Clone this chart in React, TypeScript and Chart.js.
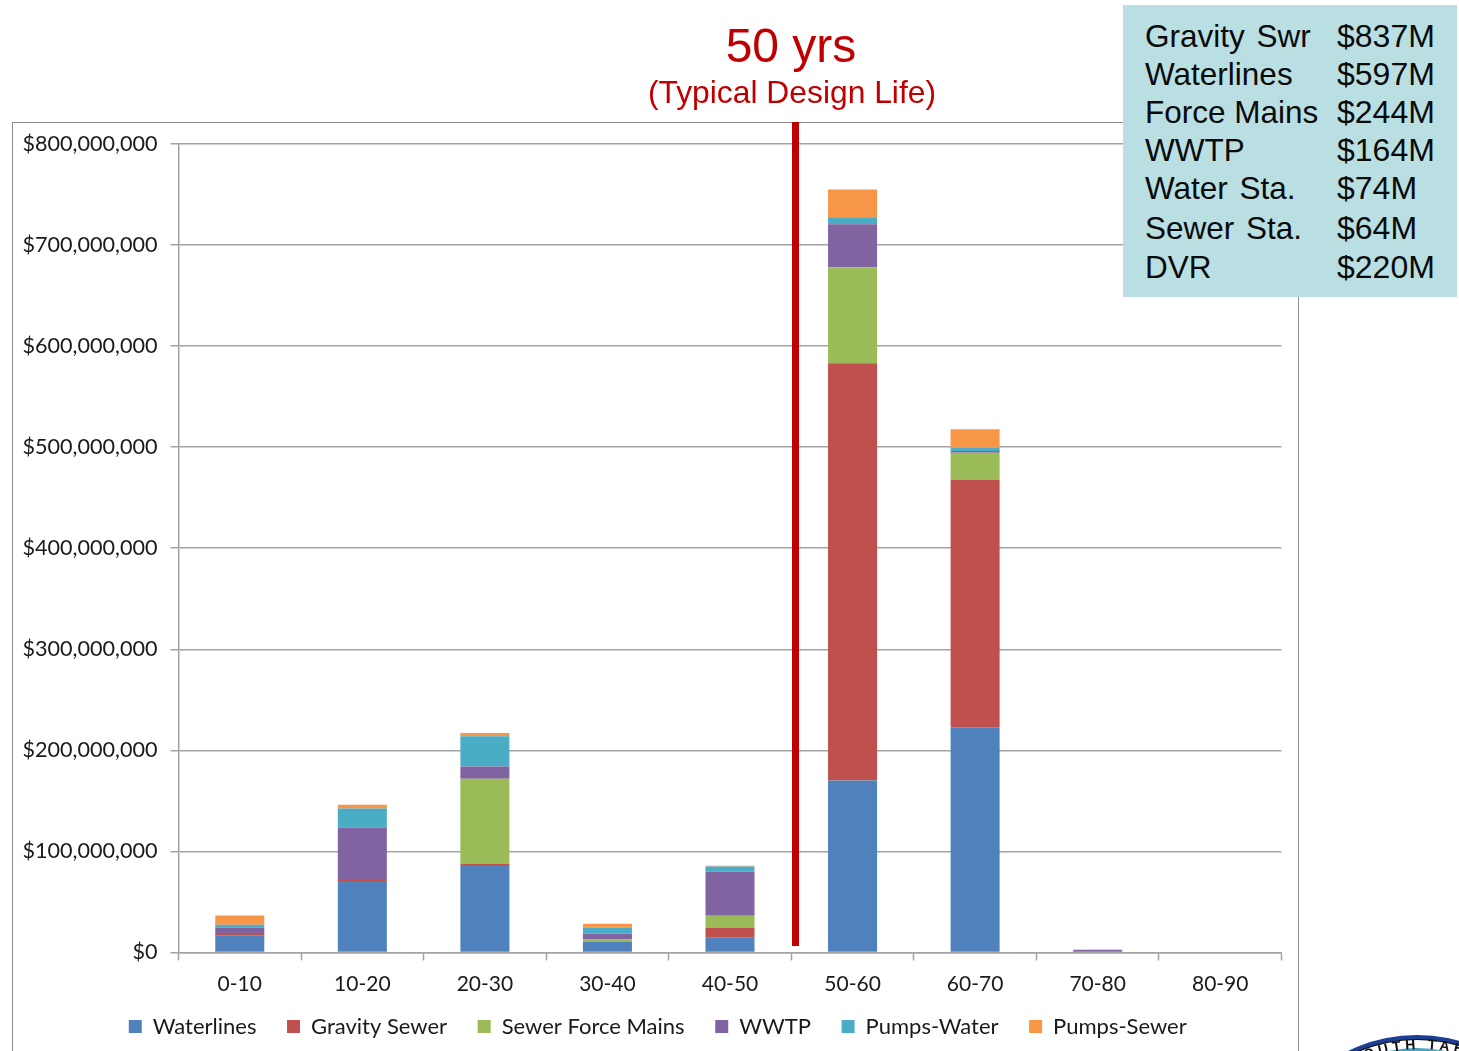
import React, { useEffect, useRef } from "react";
import { Chart, registerables } from "chart.js";

Chart.register(...registerables);

const categories = ["0-10", "10-20", "20-30", "30-40", "40-50", "50-60", "60-70", "70-80", "80-90"];
const waterlines = [16.5, 70.6, 86.5, 10.2, 14.5, 170, 222.7, 0, 0];
const gravitySewer = [2.6, 1, 1.3, 0.5, 9.6, 413, 245, 0, 0];
const sewerForceMains = [0, 0, 84, 2, 12.2, 95, 26.7, 0, 0];
const wwtp = [5.3, 52, 12.2, 6, 43.5, 42.6, 1.7, 2.5, 0];
const pumpsWater = [3, 18.8, 30, 6, 5.3, 6.9, 3.3, 0, 0];
const pumpsSewer = [9, 3.7, 3, 3.7, 0.6, 27.4, 18.3, 0, 0];
const summaryNames = ["Gravity Swr", "Waterlines", "Force Mains", "WWTP", "Water Sta.", "Sewer Sta.", "DVR"];
const summaryCosts = ["$837M", "$597M", "$244M", "$164M", "$74M", "$64M", "$220M"];
const summaryCentres = [36, 74, 112, 150, 188, 228, 267];

const MILLION = 1000000;
const inDollars = (values: number[]) => values.map((v) => v * MILLION);
const CANVAS_HEIGHT = 1075;
const GRID = "#a3a3a3";

const place = {
  id: "place",
  afterLayout(chart: any) {
    chart.legend.left = 34;
    chart.legend.top = 985;
  },
};

export default function App() {
  const ref = useRef<HTMLCanvasElement>(null);

  useEffect(() => {
    const series: [string, number[], string][] = [
      ["Waterlines", waterlines, "#4f81bd"],
      ["Gravity Sewer", gravitySewer, "#c0504d"],
      ["Sewer Force Mains", sewerForceMains, "#9bbb59"],
      ["WWTP", wwtp, "#8064a2"],
      ["Pumps-Water", pumpsWater, "#4bacc6"],
      ["Pumps-Sewer", pumpsSewer, "#f79646"],
    ];
    const chart = new Chart(ref.current as HTMLCanvasElement, {
      type: "bar",
      data: {
        labels: categories,
        datasets: series.map(([label, values, color]) => ({
          label,
          data: inDollars(values),
          backgroundColor: color,
          borderWidth: 0,
          barPercentage: 0.4,
          categoryPercentage: 1,
        })),
      },
      plugins: [place],
      options: {
        responsive: false,
        animation: false,
        layout: { padding: { left: 0, right: 177.5, top: 144, bottom: 0 } },
        plugins: {
          tooltip: { enabled: false },
          title: { display: false },
          legend: {
            position: "bottom",
            labels: { boxWidth: 13, boxHeight: 13, padding: 30.6, color: "#1a1a1a", font: { family: "Lato", size: 22 } },
          },
        },
        scales: {
          x: {
            stacked: true,
            afterFit: (s: any) => { s.height = 60; },
            grid: { drawOnChartArea: false, drawTicks: true, tickLength: 8, tickWidth: 1.5, tickColor: GRID },
            border: { color: GRID, width: 1.5 },
            ticks: { color: "#1a1a1a", font: { family: "Lato", size: 21 }, padding: 11, maxRotation: 0 },
          },
          y: {
            stacked: true,
            min: 0,
            max: 800 * MILLION,
            afterFit: (s: any) => { s.width = 178.5; },
            grid: { color: GRID, lineWidth: 1.5, tickLength: 8, tickColor: GRID },
            border: { color: GRID, width: 1.5 },
            ticks: {
              stepSize: 100 * MILLION,
              color: "#1a1a1a",
              font: { family: "Lato", size: 21.6 },
              padding: 13,
              callback: (v: any) => "$" + Number(v).toLocaleString("en-US"),
            },
          },
        },
      },
    } as any);
    return () => chart.destroy();
  }, []);

  const arial = "'Liberation Sans', Arial, sans-serif";
  return (
    <div style={{ position: "fixed", left: 0, top: 0, width: 1459, height: 1051, overflow: "hidden", background: "#fff" }}>
      <div style={{ position: "absolute", left: 12, top: 122, width: 1287, height: 1000, border: "1px solid #8c8c8c", boxSizing: "border-box" }} />
      <canvas ref={ref} width={1459} height={CANVAS_HEIGHT} style={{ position: "absolute", left: 0, top: 0, width: 1459, height: CANVAS_HEIGHT }} />
      <div style={{ position: "absolute", left: 791.5, top: 122, width: 7, height: 824, background: "#c00000" }} />
      <div style={{ position: "absolute", left: 490, width: 602, top: 16, textAlign: "center", color: "#c00000", fontFamily: arial, fontSize: 48, lineHeight: "60px" }}>50 yrs</div>
      <div style={{ position: "absolute", left: 490, width: 604, top: 72, textAlign: "center", color: "#c00000", fontFamily: arial, fontSize: 31.8, lineHeight: "40px" }}>(Typical Design Life)</div>
      <div style={{ position: "absolute", left: 1123, top: 5, width: 334, height: 292, background: "#b9dfe3" }}>
        {summaryNames.map((name, i) => (
          <React.Fragment key={name}>
            <div style={{ position: "absolute", left: 22, top: summaryCentres[i] - 5 - 20, fontFamily: arial, fontSize: 31.5, lineHeight: "40px", color: "#0a0a0a", whiteSpace: "nowrap", wordSpacing: name === "Force Mains" ? 0 : 3 }}>{name}</div>
            <div style={{ position: "absolute", left: 214, top: summaryCentres[i] - 5 - 20, fontFamily: arial, fontSize: 32, lineHeight: "40px", color: "#0a0a0a", whiteSpace: "nowrap" }}>{summaryCosts[i]}</div>
          </React.Fragment>
        ))}
      </div>
      <svg style={{ position: "absolute", left: 0, top: 0 }} width={1459} height={1051}>
        <defs>
          <path id="sealArc" d="M 1273 1192 A 150 143 0 0 1 1573 1192" />
        </defs>
        <ellipse cx={1417} cy={1192} rx={158} ry={157} fill="#1c3f94" />
        <ellipse cx={1417} cy={1194} rx={154} ry={155} fill="#111" />
        <ellipse cx={1417} cy={1196} rx={152} ry={156} fill="#fff" />
        <ellipse cx={1417} cy={1194} rx={140} ry={146} fill="#4aa3c4" />
        <text fontFamily={arial} fontWeight="bold" fontSize={14} letterSpacing={4} fill="#111">
          <textPath href="#sealArc" startOffset="50%" textAnchor="middle">SOUTH TAHOE</textPath>
        </text>
      </svg>
    </div>
  );
}
